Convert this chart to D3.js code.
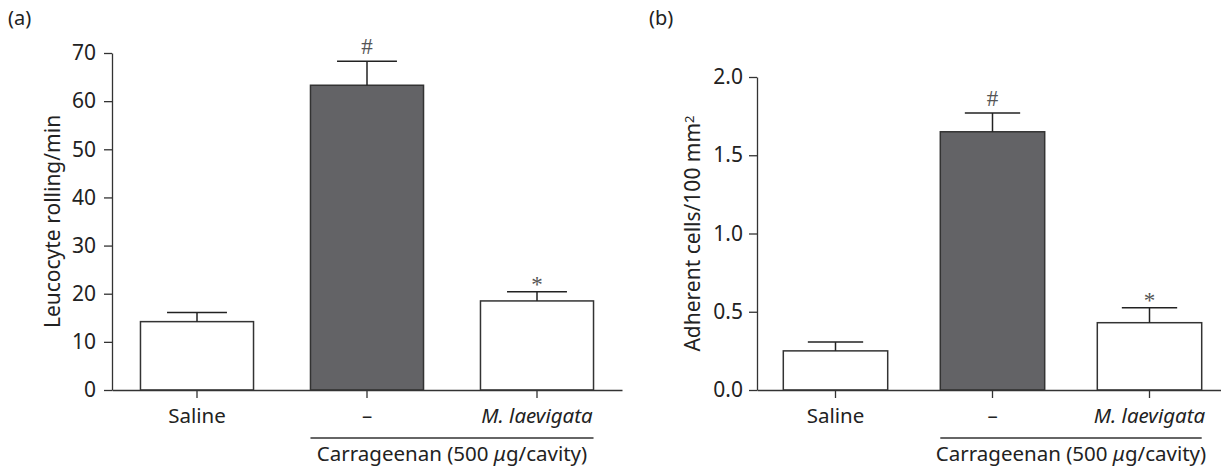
<!DOCTYPE html>
<html>
<head>
<meta charset="utf-8">
<script src="https://cdn.jsdelivr.net/npm/d3@7/dist/d3.min.js"></script>
<style>
    body{margin:0;background:#fff;}
    text{font-family:"Noto Sans","Open Sans",sans-serif;fill:#222;}
</style>
</head>
<body>
<svg id="display" width="1221" height="466"></svg>
<script>
// data
const categories=["Saline","\u2013","M. laevigata"];
const bar_fills=["#ffffff","#636366","#ffffff"];
const markers=["","#","*"];

const rolling_mean=[14.2,63.3,18.5];
const rolling_sem=[1.9,5.0,1.9];
const rolling_ticks=[0,10,20,30,40,50,60,70];

const adherent_mean=[0.25,1.65,0.43];
const adherent_sem=[0.056,0.12,0.096];
const adherent_ticks=[0,0.5,1.0,1.5,2.0];

const group_label="Carrageenan (500 ";

function draw_panel(cfg){
    const display=d3.select("#display");
    const g=display.append("g");

    const x=d3.scaleBand()
        .domain(categories)
        .range([cfg.x0,cfg.x1])
        .paddingInner(0.335)
        .paddingOuter(0.1675);
    const y=d3.scaleLinear()
        .domain(cfg.domain)
        .range([cfg.y0,cfg.y1]);

    // panel letter
    g.append("text")
        .attr("x",cfg.letter_x)
        .attr("y",25)
        .style("font-size","20px")
        .text(cfg.letter);

    // bars
    const bw=x.bandwidth();
    categories.forEach(function(c,i){
        g.append("rect")
            .attr("x",x(c))
            .attr("y",y(cfg.mean[i]))
            .attr("width",bw)
            .attr("height",y(0)-y(cfg.mean[i]))
            .attr("fill",bar_fills[i])
            .attr("stroke","#333")
            .attr("stroke-width",1.5);

        // error bar
        const cx=x(c)+bw/2;
        const top=y(cfg.mean[i]+cfg.sem[i]);
        g.append("line")
            .attr("x1",cx).attr("x2",cx)
            .attr("y1",y(cfg.mean[i])).attr("y2",top)
            .attr("stroke","#222")
            .attr("stroke-width",1.5);
        g.append("line")
            .attr("x1",cx-bw*0.265).attr("x2",cx+bw*0.265)
            .attr("y1",top).attr("y2",top)
            .attr("stroke","#222")
            .attr("stroke-width",1.5);

        if (markers[i]!==""){
            g.append("text")
                .attr("x",cx)
                .attr("y",top-(markers[i]==="*"?0:7))
                .style("font-family","'Liberation Serif',serif")
                .style("font-size","23px")
                .style("fill","#555")
                .style("text-anchor","middle")
                .text(markers[i]);
        }
    });

    // y axis
    const y_axis=g.append("g")
        .attr("transform","translate("+cfg.x0+",0)")
        .call(d3.axisLeft(y).tickValues(cfg.ticks).tickFormat(d3.format(cfg.fmt)).tickSize(8).tickPadding(cfg.tick_pad).tickSizeOuter(0));
    y_axis.selectAll("text").style("font-size","21px").style("fill","#222");
    y_axis.selectAll("line,path").attr("stroke","#333").attr("stroke-width",1.3);

    // x axis
    const x_axis=g.append("g")
        .attr("transform","translate(0,"+cfg.y0+")")
        .call(d3.axisBottom(x).tickSize(8).tickPadding(10).tickSizeOuter(0));
    x_axis.selectAll("text")
        .style("font-size","20.5px")
        .style("fill","#222")
        .style("font-style",d=>d==="M. laevigata"?"italic":"normal");
    x_axis.selectAll("line,path").attr("stroke","#333").attr("stroke-width",1.3);

    // y label
    const yl=g.append("text")
        .attr("transform","translate("+cfg.label_x+","+((cfg.y0+cfg.y1)/2)+") rotate(-90)")
        .style("font-size","21px")
        .style("text-anchor","middle")
        .text(cfg.label);
    if (cfg.label_sup){
        yl.append("tspan")
            .attr("dy","-0.45em")
            .style("font-size","13px")
            .text(cfg.label_sup);
    }

    // carrageenan group line
    const gx1=x(categories[1]);
    const gx2=x(categories[2])+bw;
    g.append("line")
        .attr("x1",gx1).attr("x2",gx2)
        .attr("y1",438).attr("y2",438)
        .attr("stroke","#333")
        .attr("stroke-width",1.3);
    const gt=g.append("text")
        .attr("x",(gx1+gx2)/2)
        .attr("y",461)
        .style("font-size","20.5px")
        .style("text-anchor","middle")
        .text(group_label);
    gt.append("tspan").style("font-style","italic").text("\u03bc");
    gt.append("tspan").text("g/cavity)");
}

draw_panel({
    letter:"(a)",letter_x:8,
    x0:112,x1:622,y0:390,y1:53,
    domain:[0,70],ticks:rolling_ticks,fmt:"d",tick_pad:8,
    mean:rolling_mean,sem:rolling_sem,
    label:"Leucocyte rolling/min",label_x:60
});
draw_panel({
    letter:"(b)",letter_x:649,
    x0:757,x1:1228,y0:390,y1:77,
    domain:[0,2],ticks:adherent_ticks,fmt:".1f",tick_pad:6,
    mean:adherent_mean,sem:adherent_sem,
    label:"Adherent cells/100 mm",label_sup:"2",label_x:700
});
</script>
</body>
</html>
